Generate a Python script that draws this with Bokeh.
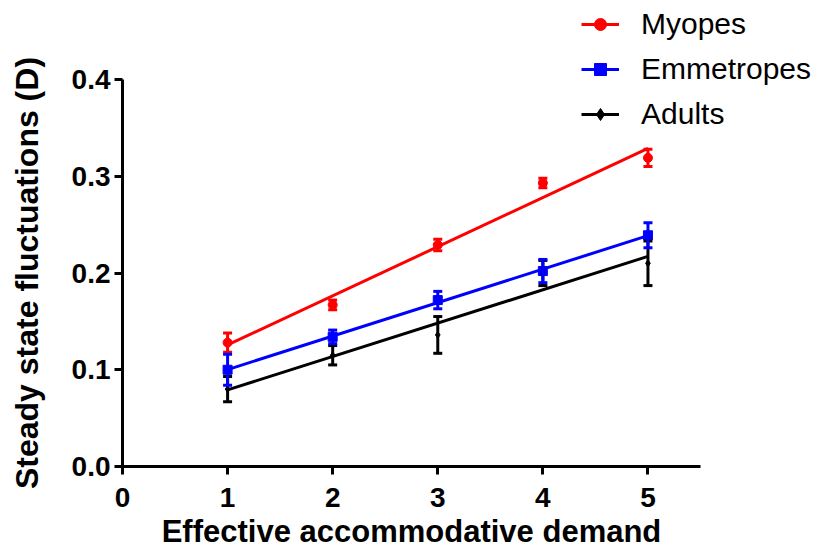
import numpy as np
from bokeh.plotting import figure
from bokeh.models import (ColumnDataSource, Whisker, TeeHead, Legend, LegendItem,
                          FixedTicker, PrintfTickFormatter, Range1d)
from bokeh.embed import file_html
from bokeh.resources import INLINE

# ---- data ----
demand = [1, 2, 3, 4, 5]
myopes = [0.128, 0.167, 0.229, 0.293, 0.319]
myopes_err = [0.010, 0.005, 0.006, 0.005, 0.009]
emmetropes = [0.100, 0.134, 0.172, 0.202, 0.239]
emmetropes_err = [0.016, 0.007, 0.009, 0.012, 0.013]
adults = [0.080, 0.115, 0.136, 0.200, 0.210]
adults_err = [0.013, 0.010, 0.019, 0.013, 0.023]

series_names = ["Myopes", "Emmetropes", "Adults"]
series_colors = ["#ff0000", "#0000ff", "#000000"]
series_markers = ["circle", "square", "diamond"]
marker_sizes = [9, 9, 7]

x_ticks = [0, 1, 2, 3, 4, 5]
y_ticks = [0.0, 0.1, 0.2, 0.3, 0.4]
x_axis_max = 5.5
y_axis_max = 0.4

FONT = "Liberation Sans"

# ---- layout (pixels) ----
W, H = 817, 552
AX_LEFT, AX_RIGHT, AX_TOP, AX_BOTTOM = 122, 700, 79, 466
sx = (AX_RIGHT - AX_LEFT) / x_axis_max
sy = (AX_BOTTOM - AX_TOP) / y_axis_max
x_range = Range1d(-AX_LEFT / sx, x_axis_max + (W - AX_RIGHT) / sx)
y_range = Range1d(-(H - AX_BOTTOM) / sy, y_axis_max + AX_TOP / sy)

p = figure(width=W, height=H, output_backend="svg", toolbar_location=None,
           x_range=x_range, y_range=y_range, min_border=0)
p.outline_line_color = None
p.xgrid.visible = False
p.ygrid.visible = False
p.background_fill_color = "white"
p.border_fill_color = "white"

values = [myopes, emmetropes, adults]
errors = [myopes_err, emmetropes_err, adults_err]
order = [0, 2, 1]
renderers = {}
for i in order:
    y = np.array(values[i])
    e = np.array(errors[i])
    x = np.array(demand, dtype=float)
    col = series_colors[i]
    src = ColumnDataSource(dict(x=x, y=y, upper=y + e, lower=y - e))
    w = Whisker(source=src, base="x", upper="upper", lower="lower",
                line_color=col, line_width=3, level="glyph",
                upper_head=TeeHead(size=9, line_color=col, line_width=3),
                lower_head=TeeHead(size=9, line_color=col, line_width=3))
    p.add_layout(w)
    slope, icpt = np.polyfit(x, y, 1)
    xf = np.array([demand[0], demand[-1]], dtype=float)
    fit_src = ColumnDataSource(dict(x=xf, y=slope * xf + icpt))
    ln = p.line("x", "y", source=fit_src, line_color=col, line_width=3)
    sc = p.scatter("x", "y", source=src, marker=series_markers[i],
                   size=marker_sizes[i], color=col)
    renderers[i] = (ln, sc)

legend_items = [LegendItem(label=series_names[i], renderers=list(renderers[i]))
                for i in range(3)]
legend = Legend(items=legend_items, location=(581, 421),
                label_text_font=FONT, label_text_font_size="30px",
                label_text_color="#000000",
                glyph_width=38, glyph_height=30, label_height=30,
                label_standoff=22, spacing=11, padding=0, margin=0,
                border_line_color=None, background_fill_alpha=0)
p.add_layout(legend, "center")

for ax in (p.xaxis[0], p.yaxis[0]):
    ax.axis_line_width = 3
    ax.major_tick_line_width = 3
    ax.major_tick_out = 8
    ax.major_tick_in = 0
    ax.minor_tick_line_color = None
    ax.major_label_text_font = FONT
    ax.major_label_text_font_style = "bold"
    ax.major_label_text_font_size = "28px"
    ax.major_label_text_color = "#000000"
    ax.axis_label_text_font = FONT
    ax.axis_label_text_font_style = "bold"
    ax.axis_label_text_color = "#000000"

p.xaxis.fixed_location = 0
p.yaxis.fixed_location = 0
p.xaxis.bounds = (0, x_axis_max)
p.yaxis.bounds = (0, y_axis_max)
p.xaxis.ticker = FixedTicker(ticks=x_ticks)
p.yaxis.ticker = FixedTicker(ticks=y_ticks)
p.yaxis.formatter = PrintfTickFormatter(format="%.1f")
p.xaxis.axis_label = "Effective accommodative demand"
p.yaxis.axis_label = "Steady state fluctuations (D)"
p.xaxis.axis_label_text_font_size = "31px"
p.yaxis.axis_label_text_font_size = "32px"
p.xaxis.major_label_standoff = 13
p.xaxis.axis_label_standoff = 4
p.yaxis.major_label_standoff = 4
p.yaxis.axis_label_standoff = 24

open("out.html", "w").write(file_html(p, INLINE))
